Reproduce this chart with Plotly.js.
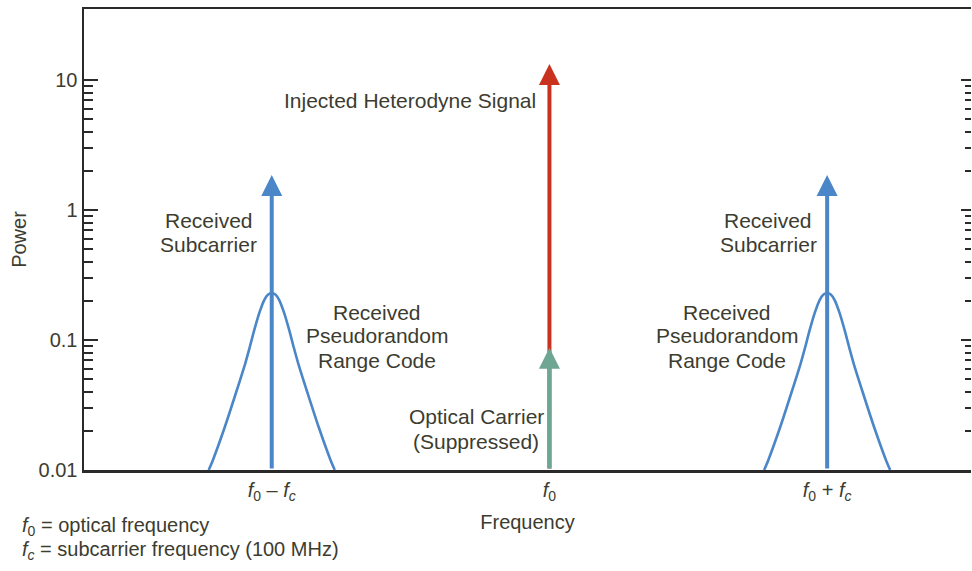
<!DOCTYPE html>
<html><head><meta charset="utf-8">
<script src="https://cdn.plot.ly/plotly-3.0.1.min.js"></script>
<style>html,body{margin:0;padding:0;background:#fff}#chart{width:972px;height:571px}</style>
</head><body><div id="chart"></div>
<script>
// ---- data ----
const xTickVals = [-1, 0, 1];
const xTickLabels = ['<i>f</i><sub>0</sub> – <i>f</i><sub><i>c</i></sub>', '<i>f</i><sub>0</sub>', '<i>f</i><sub>0</sub> + <i>f</i><sub><i>c</i></sub>'];
const yTickVals = [0.01, 0.1, 1, 10];
const yTickLabels = ['0.01', '0.1', '1', '10'];
const yMinorTickVals = [0.02, 0.03, 0.04, 0.05, 0.06, 0.07, 0.08, 0.09,
                        0.2, 0.3, 0.4, 0.5, 0.6, 0.7, 0.8, 0.9,
                        2, 3, 4, 5, 6, 7, 8, 9];

// spectral lines (arrows): position, base power, tip power
const lineNames = ['Received Subcarrier (lower)', 'Injected Heterodyne Signal', 'Optical Carrier (Suppressed)', 'Received Subcarrier (upper)'];
const lineX = [-1, 0, 0, 1];
const lineBase = [0.01, 0.01, 0.01, 0.01];
const linePower = [1.86, 13.3, 0.087, 1.86];

// received pseudorandom range code spectra
const codeLowerX = [-1.227, -1.212, -1.169, -1.129, -1.095, -1.079, -1.063, -1.045, -1.027, -1.013, -1, -0.987, -0.973, -0.955, -0.937, -0.921, -0.905, -0.871, -0.831, -0.788, -0.773];
const codeUpperX = [0.773, 0.788, 0.831, 0.871, 0.905, 0.921, 0.937, 0.955, 0.973, 0.987, 1, 1.013, 1.027, 1.045, 1.063, 1.079, 1.095, 1.129, 1.169, 1.212, 1.227];
const codePower = [0.01, 0.0119, 0.0214, 0.0391, 0.0665, 0.0883, 0.119, 0.161, 0.203, 0.224, 0.230, 0.224, 0.203, 0.161, 0.119, 0.0883, 0.0665, 0.0391, 0.0214, 0.0119, 0.01];

// ---- styling ----
const BLUE = '#4a86c8', RED = '#c8321e', GREEN = '#6fa593', TXT = '#3c3c30', AX = '#2a2a2a';
const lineColors = [BLUE, RED, GREEN, BLUE];
const FONT = 'Liberation Sans, Arial, Helvetica, sans-serif';
const FS = 21;
const lg = Math.log10;

const traces = [
  {x: codeLowerX, y: codePower, type: 'scatter', mode: 'lines', line: {color: BLUE, width: 2.6, shape: 'spline', smoothing: 0.7}, hoverinfo: 'skip', showlegend: false},
  {x: codeUpperX, y: codePower, type: 'scatter', mode: 'lines', line: {color: BLUE, width: 2.6, shape: 'spline', smoothing: 0.7}, hoverinfo: 'skip', showlegend: false},
  {x: [0], y: [1], yaxis: 'y2', type: 'scatter', mode: 'markers', marker: {opacity: 0}, hoverinfo: 'skip', showlegend: false}
];

const annotations = [];
lineX.forEach((x, i) => {
  annotations.push({
    x: x, y: lg(linePower[i]), ax: x, ay: lg(lineBase[i]),
    xref: 'x', yref: 'y', axref: 'x', ayref: 'y',
    showarrow: true, arrowhead: 2, arrowsize: 1.05, arrowwidth: 4, arrowcolor: lineColors[i],
    text: '', standoff: 0, startstandoff: 0
  });
});

// text labels: [text, x, log10 y, xanchor]
const labelDefs = [
  ['Injected Heterodyne Signal', -0.04, 0.846, 'right'],
  ['Received', -1.227, -0.077, 'center'],
  ['Subcarrier', -1.227, -0.262, 'center'],
  ['Received', 0.788, -0.077, 'center'],
  ['Subcarrier', 0.788, -0.262, 'center'],
  ['Received', -0.622, -0.785, 'center'],
  ['Pseudorandom', -0.622, -0.969, 'center'],
  ['Range Code', -0.622, -1.154, 'center'],
  ['Received', 0.640, -0.785, 'center'],
  ['Pseudorandom', 0.640, -0.969, 'center'],
  ['Range Code', 0.640, -1.154, 'center'],
  ['Optical Carrier', -0.263, -1.592, 'center'],
  ['(Suppressed)', -0.263, -1.777, 'center']
];
labelDefs.forEach(d => annotations.push({
  text: d[0], x: d[1], y: d[2], xref: 'x', yref: 'y', xanchor: d[3], yanchor: 'middle',
  showarrow: false, font: {family: FONT, size: FS, color: TXT}
}));

// footnotes
annotations.push({text: '<i>f</i><sub>0</sub> = optical frequency', xref: 'paper', yref: 'paper', x: -0.0722, y: -0.1236, xanchor: 'left', yanchor: 'middle', showarrow: false, font: {family: FONT, size: FS - 1, color: TXT}});
annotations.push({text: '<i>f</i><sub><i>c</i></sub> = subcarrier frequency (100 MHz)', xref: 'paper', yref: 'paper', x: -0.0722, y: -0.1757, xanchor: 'left', yanchor: 'middle', showarrow: false, font: {family: FONT, size: FS - 1, color: TXT}});

const yRange = [-2, 1.546];
const layout = {
  width: 972, height: 571,
  margin: {l: 84, r: 1, t: 9, b: 101},
  paper_bgcolor: '#fff', plot_bgcolor: '#fff',
  showlegend: false,
  font: {family: FONT, size: FS, color: TXT},
  xaxis: {
    range: [-1.676, 1.518], showgrid: false, zeroline: false,
    showline: true, linecolor: AX, linewidth: 2.5, mirror: true,
    ticks: '', tickvals: xTickVals, ticktext: xTickLabels,
    tickfont: {family: FONT, size: FS - 1, color: TXT},
    title: {text: 'Frequency', font: {family: FONT, size: FS - 1, color: TXT}, standoff: 13}
  },
  yaxis: {
    type: 'log', range: yRange, showgrid: false, zeroline: false,
    showline: true, linecolor: AX, linewidth: 2.5,
    ticks: 'inside', ticklen: 14, tickwidth: 2, tickcolor: AX,
    tickmode: 'array', tickvals: yTickVals, ticktext: yTickLabels,
    tickfont: {family: FONT, size: FS - 1, color: TXT},
    minor: {tickmode: 'array', tickvals: yMinorTickVals, ticks: 'inside', ticklen: 9, tickwidth: 2, tickcolor: AX, showgrid: false},
    title: {text: 'Power', font: {family: FONT, size: FS - 1, color: TXT}, standoff: 7}
  },
  yaxis2: {
    type: 'log', range: yRange, overlaying: 'y', side: 'right', showgrid: false, zeroline: false,
    showline: false, showticklabels: false,
    ticks: 'inside', ticklen: 10, tickwidth: 2, tickcolor: AX, tickmode: 'array', tickvals: yTickVals,
    minor: {tickmode: 'array', tickvals: yMinorTickVals, ticks: 'inside', ticklen: 6, tickwidth: 2, tickcolor: AX, showgrid: false}
  },
  annotations: annotations
};

Plotly.newPlot('chart', traces, layout, {displayModeBar: false, staticPlot: true});
</script>
</body></html>
